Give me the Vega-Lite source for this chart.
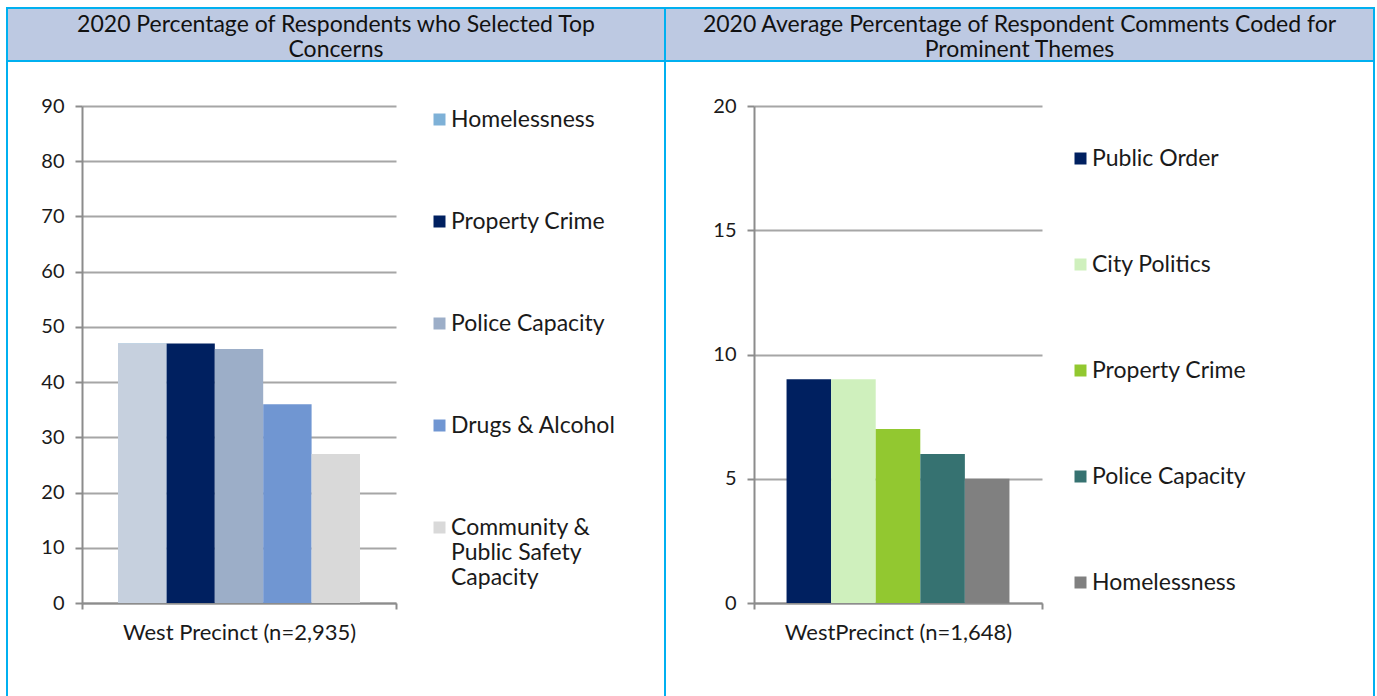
{
  "$schema": "https://vega.github.io/schema/vega-lite/v6.json",
  "background": "white",
  "padding": {"left": 6, "top": 7, "right": 0, "bottom": 0},
  "columns": 2,
  "spacing": 0,
  "bounds": "flush",
  "align": "each",
  "resolve": {
    "scale": {"x": "independent", "y": "independent", "xOffset": "independent", "color": "independent"},
    "legend": {"color": "independent"}
  },
  "config": {
    "font": "Lato",
    "axis": {
      "labelFont": "Lato",
      "labelColor": "#1a1a1a",
      "domainColor": "#8c8c8c",
      "domainWidth": 2,
      "tickColor": "#8c8c8c",
      "tickWidth": 2,
      "gridColor": "#a6a6a6",
      "gridWidth": 2,
      "title": null
    },
    "legend": {
      "labelFont": "Lato",
      "labelColor": "#1a1a1a",
      "labelFontSize": 23,
      "labelLimit": 400,
      "symbolType": "square",
      "symbolSize": 144,
      "symbolStrokeWidth": 0,
      "labelOffset": 0,
      "padding": 0
    }
  },
  "concat": [
    {
      "width": 658,
      "height": 53,
      "view": {"fill": "#bdc9e2", "stroke": "#00b0f0", "strokeWidth": 2},
      "data": {"values": [{"title": "2020 Percentage of Respondents who Selected Top\nConcerns"}]},
      "mark": {"type": "text", "font": "Lato", "fontSize": 23, "lineHeight": 25, "lineBreak": "\n", "dy": -10, "color": "#111111"},
      "encoding": {"text": {"field": "title", "type": "nominal"}}
    },
    {
      "width": 709,
      "height": 53,
      "view": {"fill": "#bdc9e2", "stroke": "#00b0f0", "strokeWidth": 2},
      "data": {"values": [{"title": "2020 Average Percentage of Respondent Comments Coded for\nProminent Themes"}]},
      "mark": {"type": "text", "font": "Lato", "fontSize": 23, "lineHeight": 25, "lineBreak": "\n", "dy": -10, "color": "#111111"},
      "encoding": {"text": {"field": "title", "type": "nominal"}}
    },
    {
      "width": 658,
      "height": 636,
      "view": {"fill": "white", "stroke": "#00b0f0", "strokeWidth": 2},
      "data": {"values": [
        {"precinct": "West Precinct (n=2,935)", "concern": "Homelessness", "pct": 47},
        {"precinct": "West Precinct (n=2,935)", "concern": "Property Crime", "pct": 47},
        {"precinct": "West Precinct (n=2,935)", "concern": "Police Capacity", "pct": 46},
        {"precinct": "West Precinct (n=2,935)", "concern": "Drugs & Alcohol", "pct": 36},
        {"precinct": "West Precinct (n=2,935)", "concern": "Community & Public Safety Capacity", "pct": 27}
      ]},
      "encoding": {
        "x": {
          "field": "precinct", "type": "nominal",
          "scale": {"range": [75, 389], "paddingInner": 0, "paddingOuter": 0},
          "axis": {"offset": -94, "labelAngle": 0, "labelFontSize": 22, "labelPadding": 13, "tickBand": "extent", "tickSize": 6, "grid": false, "labelLimit": 400}
        },
        "y": {
          "field": "pct", "type": "quantitative",
          "scale": {"domain": [0, 90], "range": [542, 45], "nice": false},
          "axis": {"offset": -75, "values": [0, 10, 20, 30, 40, 50, 60, 70, 80, 90], "labelFontSize": 20, "labelPadding": 11, "tickSize": 7, "grid": true}
        },
        "xOffset": {
          "field": "concern", "type": "nominal", "sort": null,
          "scale": {
            "domain": ["Homelessness", "Property Crime", "Police Capacity", "Drugs & Alcohol", "Community & Public Safety Capacity"],
            "paddingOuter": 0.744, "paddingInner": 0
          }
        }
      },
      "layer": [
        {
          "mark": {"type": "bar"},
          "encoding": {
            "color": {
              "field": "concern", "type": "nominal",
              "scale": {
                "domain": ["Homelessness", "Property Crime", "Police Capacity", "Drugs & Alcohol", "Community & Public Safety Capacity"],
                "range": ["#7eb1d7", "#002060", "#9caec8", "#7096d2", "#d9d9d9"]
              },
              "legend": {
                "orient": "none",
                "legendX": 421,
                "legendY": 47,
                "title": null,
                "rowPadding": 78,
                "labelExpr": "datum.label === 'Community & Public Safety Capacity' ? ['Community &', 'Public Safety', 'Capacity'] : datum.label"
              }
            }
          }
        },
        {
          "transform": [{"filter": "datum.concern === 'Homelessness'"}],
          "mark": {"type": "bar", "color": "#c6d0de"}
        }
      ]
    },
    {
      "width": 709,
      "height": 636,
      "view": {"fill": "white", "stroke": "#00b0f0", "strokeWidth": 2},
      "data": {"values": [
        {"precinct": "WestPrecinct (n=1,648)", "theme": "Public Order", "pct": 9},
        {"precinct": "WestPrecinct (n=1,648)", "theme": "City Politics", "pct": 9},
        {"precinct": "WestPrecinct (n=1,648)", "theme": "Property Crime", "pct": 7},
        {"precinct": "WestPrecinct (n=1,648)", "theme": "Police Capacity", "pct": 6},
        {"precinct": "WestPrecinct (n=1,648)", "theme": "Homelessness", "pct": 5}
      ]},
      "mark": {"type": "bar"},
      "encoding": {
        "x": {
          "field": "precinct", "type": "nominal",
          "scale": {"range": [89, 377], "paddingInner": 0, "paddingOuter": 0},
          "axis": {"offset": -94, "labelAngle": 0, "labelFontSize": 22, "labelPadding": 13, "tickBand": "extent", "tickSize": 6, "grid": false, "labelLimit": 400}
        },
        "y": {
          "field": "pct", "type": "quantitative",
          "scale": {"domain": [0, 20], "range": [542, 45], "nice": false},
          "axis": {"offset": -89, "values": [0, 5, 10, 15, 20], "labelFontSize": 20, "labelPadding": 11, "tickSize": 7, "grid": true}
        },
        "xOffset": {
          "field": "theme", "type": "nominal", "sort": null,
          "scale": {"paddingOuter": 0.73, "paddingInner": 0}
        },
        "color": {
          "field": "theme", "type": "nominal",
          "scale": {
            "domain": ["Public Order", "City Politics", "Property Crime", "Police Capacity", "Homelessness"],
            "range": ["#002060", "#cff0bd", "#92c830", "#367271", "#808080"]
          },
          "legend": {
            "orient": "none",
            "legendX": 404,
            "legendY": 86,
            "title": null,
            "rowPadding": 82
          }
        }
      }
    }
  ]
}
